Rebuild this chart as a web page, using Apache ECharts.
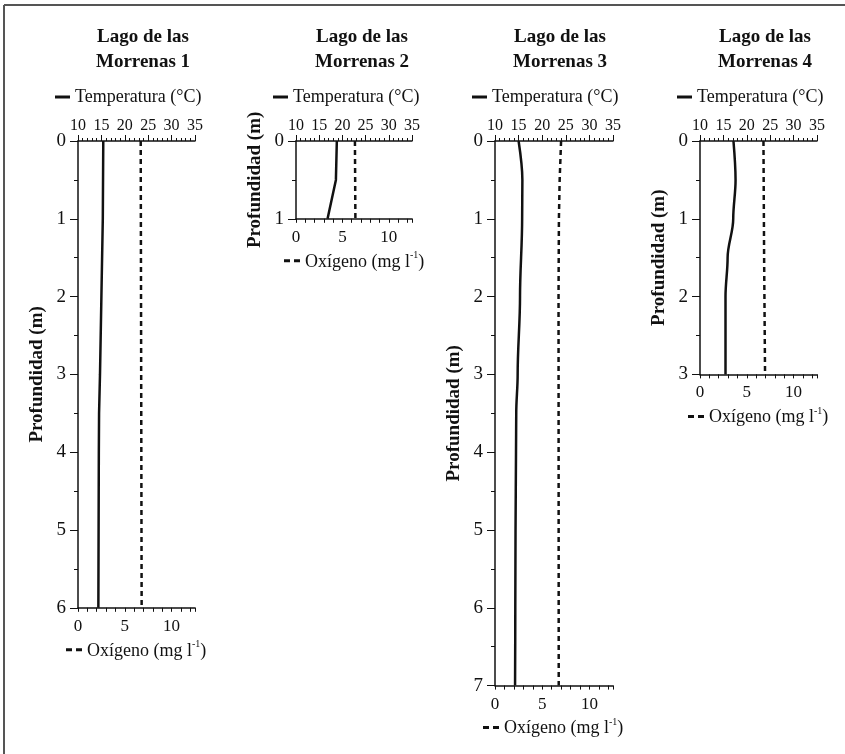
<!DOCTYPE html>
<html>
<head>
<meta charset="utf-8">
<script src="https://cdn.jsdelivr.net/npm/echarts@6/dist/echarts.min.js"></script>
<style>html,body{margin:0;padding:0;background:#fff;}#c{width:845px;height:754px;}</style>
</head>
<body>
<div id="c"></div>
<script>
// ---- Data ----
const titles = ['Lago de las\nMorrenas 1', 'Lago de las\nMorrenas 2', 'Lago de las\nMorrenas 3', 'Lago de las\nMorrenas 4'];
const maxDepth = [6, 1, 7, 3];
const tempName = 'Temperatura (°C)';
const oxyName = 'Oxígeno (mg l-1)';
const tempTicks = [10, 15, 20, 25, 30, 35];
const oxyTicks = [0, 5, 10];

const tempDepth1 = [0, 1, 2, 3, 3.5, 4, 5, 6];
const temp1 = [15.4, 15.3, 15.0, 14.7, 14.5, 14.45, 14.4, 14.35];
const oxyDepth1 = [0, 6];
const oxy1 = [6.7, 6.8];

const tempDepth2 = [0, 0.5, 1];
const temp2 = [18.8, 18.6, 16.8];
const oxyDepth2 = [0, 1];
const oxy2 = [6.35, 6.4];

const tempDepth3 = [0, 0.5, 1, 2, 3, 3.5, 4, 5, 6, 7];
const temp3 = [15.0, 15.8, 15.75, 15.3, 14.8, 14.5, 14.45, 14.35, 14.3, 14.25];
const oxyDepth3 = [0, 0.5, 1, 2, 7];
const oxy3 = [7.0, 6.85, 6.77, 6.73, 6.75];

const tempDepth4 = [0, 0.5, 1, 1.5, 2, 3];
const temp4 = [17.15, 17.6, 17.1, 15.9, 15.45, 15.45];
const oxyDepth4 = [0, 1.5, 3];
const oxy4 = [6.78, 6.85, 6.95];

const tempDepths = [tempDepth1, tempDepth2, tempDepth3, tempDepth4];
const temps = [temp1, temp2, temp3, temp4];
const oxyDepths = [oxyDepth1, oxyDepth2, oxyDepth3, oxyDepth4];
const oxys = [oxy1, oxy2, oxy3, oxy4];

// ---- Layout ----
const FONT = 'Liberation Serif';
const INK = '#111';
const gridLeft = [78, 296, 495, 700];
const gridWidth = [117, 116, 118, 117];
const gridTop = 141;
const pxPerM = 77.8;
const titleX = [138, 357, 555, 760];
const smoothT = [false, false, 0.35, 0.35];

const zip = (xs, ys) => xs.map((x, i) => [x, ys[i]]);

const grid = [], xAxis = [], yAxis = [], series = [], legend = [], title = [];
for (let i = 0; i < 4; i++) {
  const h = maxDepth[i] * pxPerM;
  grid.push({ left: gridLeft[i], top: gridTop, width: gridWidth[i], height: h, containLabel: false });
  title.push({
    text: titles[i], left: titleX[i], top: 20, textAlign: 'center',
    textStyle: { fontFamily: FONT, fontSize: 19, fontWeight: 'bold', color: INK, lineHeight: 25 }
  });
  // top temperature axis
  xAxis.push({
    type: 'value', gridIndex: i, position: 'top', min: tempTicks[0], max: tempTicks[tempTicks.length - 1], interval: 5,
    axisLine: { show: true, lineStyle: { color: INK, width: 1.5 } },
    axisTick: { show: true, length: 6, lineStyle: { color: INK, width: 1 } },
    minorTick: { show: true, splitNumber: 5, length: 3, lineStyle: { color: INK, width: 1 } },
    axisLabel: { fontFamily: FONT, fontSize: 16, color: INK, margin: 7 },
    splitLine: { show: false }, minorSplitLine: { show: false }
  });
  // bottom oxygen axis
  xAxis.push({
    type: 'value', gridIndex: i, position: 'bottom', min: 0, max: 12.5, interval: 1,
    axisLine: { show: true, onZero: false, lineStyle: { color: INK, width: 1.5 } },
    axisTick: { show: true, length: 4, lineStyle: { color: INK, width: 1 } },
    axisLabel: {
      fontFamily: FONT, fontSize: 17, color: INK, margin: 10,
      formatter: v => (oxyTicks.indexOf(v) >= 0 ? String(v) : '')
    },
    splitLine: { show: false }
  });
  yAxis.push({
    type: 'value', gridIndex: i, position: 'left', inverse: true, min: 0, max: maxDepth[i], interval: 1,
    name: 'Profundidad (m)', nameLocation: 'middle', nameRotate: 90, nameGap: 31,
    nameTextStyle: { fontFamily: FONT, fontSize: 19, fontWeight: 'bold', color: INK },
    axisLine: { show: true, onZero: false, lineStyle: { color: INK, width: 1.5 } },
    axisTick: { show: true, length: 8, lineStyle: { color: INK, width: 1 } },
    minorTick: { show: true, splitNumber: 2, length: 4, lineStyle: { color: INK, width: 1 } },
    axisLabel: { fontFamily: FONT, fontSize: 19, color: INK, margin: 12 },
    splitLine: { show: false }, minorSplitLine: { show: false }
  });
  series.push({
    name: tempName, type: 'line', xAxisIndex: 2 * i, yAxisIndex: i,
    data: zip(temps[i], tempDepths[i]), symbol: 'none', smooth: smoothT[i], smoothMonotone: 'y',
    lineStyle: { color: INK, width: 2.5 }, itemStyle: { color: INK }, silent: true, z: 3
  });
  series.push({
    name: oxyName, type: 'line', xAxisIndex: 2 * i + 1, yAxisIndex: i,
    data: zip(oxys[i], oxyDepths[i]), symbol: 'none',
    lineStyle: { color: INK, width: 2.5, type: [5, 4] }, itemStyle: { color: INK }, silent: true, z: 3
  });
  legend.push({
    data: [{ name: tempName, icon: 'rect' }], left: gridLeft[i] - 23, top: 88, padding: 0, selectedMode: false,
    itemWidth: 15, itemHeight: 3, itemStyle: { color: INK, borderWidth: 0 },
    textStyle: { fontFamily: FONT, fontSize: 18, color: INK }
  });
  legend.push({
    data: [{ name: oxyName, icon: 'path://M0,0h6v3h-6z M10,0h6v3h-6z' }],
    left: gridLeft[i] - 12, top: gridTop + h + 32, padding: 0, selectedMode: false,
    itemWidth: 16, itemHeight: 3, itemStyle: { color: INK, borderWidth: 0 },
    formatter: () => '{a|Oxígeno (mg l}{s|-1}{a|)}',
    textStyle: {
      fontFamily: FONT, fontSize: 18, color: INK,
      rich: {
        a: { fontFamily: FONT, fontSize: 18, color: INK, lineHeight: 20, verticalAlign: 'bottom' },
        s: { fontFamily: FONT, fontSize: 10, color: INK, lineHeight: 20, verticalAlign: 'top' }
      }
    }
  });
}

const chart = echarts.init(document.getElementById('c'), null, { renderer: 'canvas' });
chart.setOption({
  backgroundColor: '#fff',
  animation: false,
  title, grid, xAxis, yAxis, series, legend,
  graphic: [
    { type: 'line', shape: { x1: 4, y1: 5, x2: 845, y2: 5 }, style: { stroke: '#555', lineWidth: 2 } },
    { type: 'line', shape: { x1: 4, y1: 5, x2: 4, y2: 754 }, style: { stroke: '#555', lineWidth: 2 } }
  ]
});
</script>
</body>
</html>
